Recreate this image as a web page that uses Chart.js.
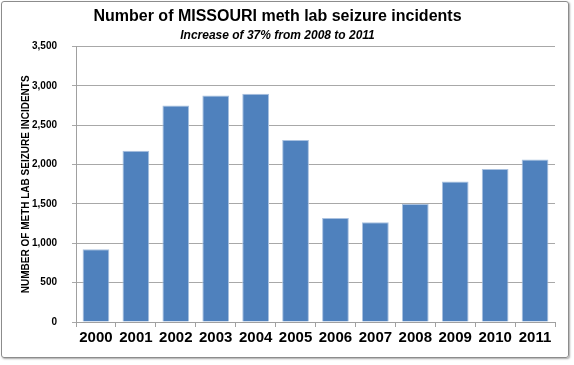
<!DOCTYPE html>
<html>
<head>
<meta charset="utf-8">
<script src="https://cdn.jsdelivr.net/npm/chart.js@4/dist/chart.umd.min.js"></script>
<style>
  body { margin: 0; background: #fff; }
  #wrap { position: relative; width: 574px; height: 365px; }
  #frame {
    position: absolute; left: 1px; top: 1px; width: 566px; height: 355px;
    border: 1.5px solid #8c8c8c; border-radius: 3px;
    box-shadow: 1px 1px 2px rgba(0,0,0,0.35);
  }
  canvas { position: absolute; left: 0; top: 0; }
</style>
</head>
<body>
<div id="wrap">
  <div id="frame"></div>
  <canvas id="chart" width="574" height="365"></canvas>
</div>
<script>
// meth lab seizure incidents
var years = ['2000', '2001', '2002', '2003', '2004', '2005', '2006', '2007', '2008', '2009', '2010', '2011'];
var incidents = [923, 2175, 2752, 2880, 2901, 2312, 1321, 1269, 1500, 1786, 1944, 2064];
var yTicks = [0, 500, 1000, 1500, 2000, 2500, 3000, 3500];

var font = 'Arial, "Liberation Sans", sans-serif';

var ctx = document.getElementById('chart').getContext('2d');
var chart = new Chart(ctx, {
  type: 'bar',
  data: {
    labels: years,
    datasets: [{
      label: 'Incidents',
      data: incidents,
      backgroundColor: '#4f81bd',
      borderColor: '#a9c1e0',
      borderWidth: 1,
      categoryPercentage: 0.67,
      barPercentage: 1
    }]
  },
  options: {
    responsive: false,
    animation: false,
    layout: { padding: { left: 0, right: 19, top: 0, bottom: 16 } },
    plugins: {
      legend: { display: false },
      tooltip: { enabled: false },
      title: {
        display: true,
        text: 'Number of MISSOURI meth lab seizure incidents',
        color: '#000',
        font: { family: font, size: 16, weight: 'bold' },
        padding: { top: 7, bottom: 2 }
      },
      subtitle: {
        display: true,
        text: 'Increase of 37% from 2008 to 2011',
        color: '#000',
        font: { family: font, size: 12, weight: 'bold', style: 'italic' },
        padding: { top: 0, bottom: 4 }
      }
    },
    scales: {
      x: {
        grid: { display: true, drawOnChartArea: false, drawTicks: true, tickLength: 5, offset: true, color: '#a0a0a0' },
        border: { color: '#a0a0a0' },
        ticks: { color: '#000', font: { family: font, size: 15, weight: 'bold' }, padding: 2, maxRotation: 0 }
      },
      y: {
        min: 0,
        max: 3500,
        afterBuildTicks: function (scale) {
          scale.ticks = yTicks.map(function (v) { return { value: v }; });
        },
        afterFit: function (scale) { scale.width = 76; },
        grid: { color: '#a8a8a8', tickLength: 4 },
        border: { color: '#a0a0a0' },
        ticks: {
          color: '#000',
          font: { family: font, size: 10, weight: 'bold' },
          padding: 15,
          callback: function (v) { return v.toLocaleString('en-US'); }
        },
        title: {
          display: true,
          text: 'NUMBER OF METH LAB SEIZURE INCIDENTS',
          color: '#000',
          font: { family: font, size: 10, weight: 'bold' },
          padding: { top: 20, bottom: 0 }
        }
      }
    }
  }
});
</script>
</body>
</html>
